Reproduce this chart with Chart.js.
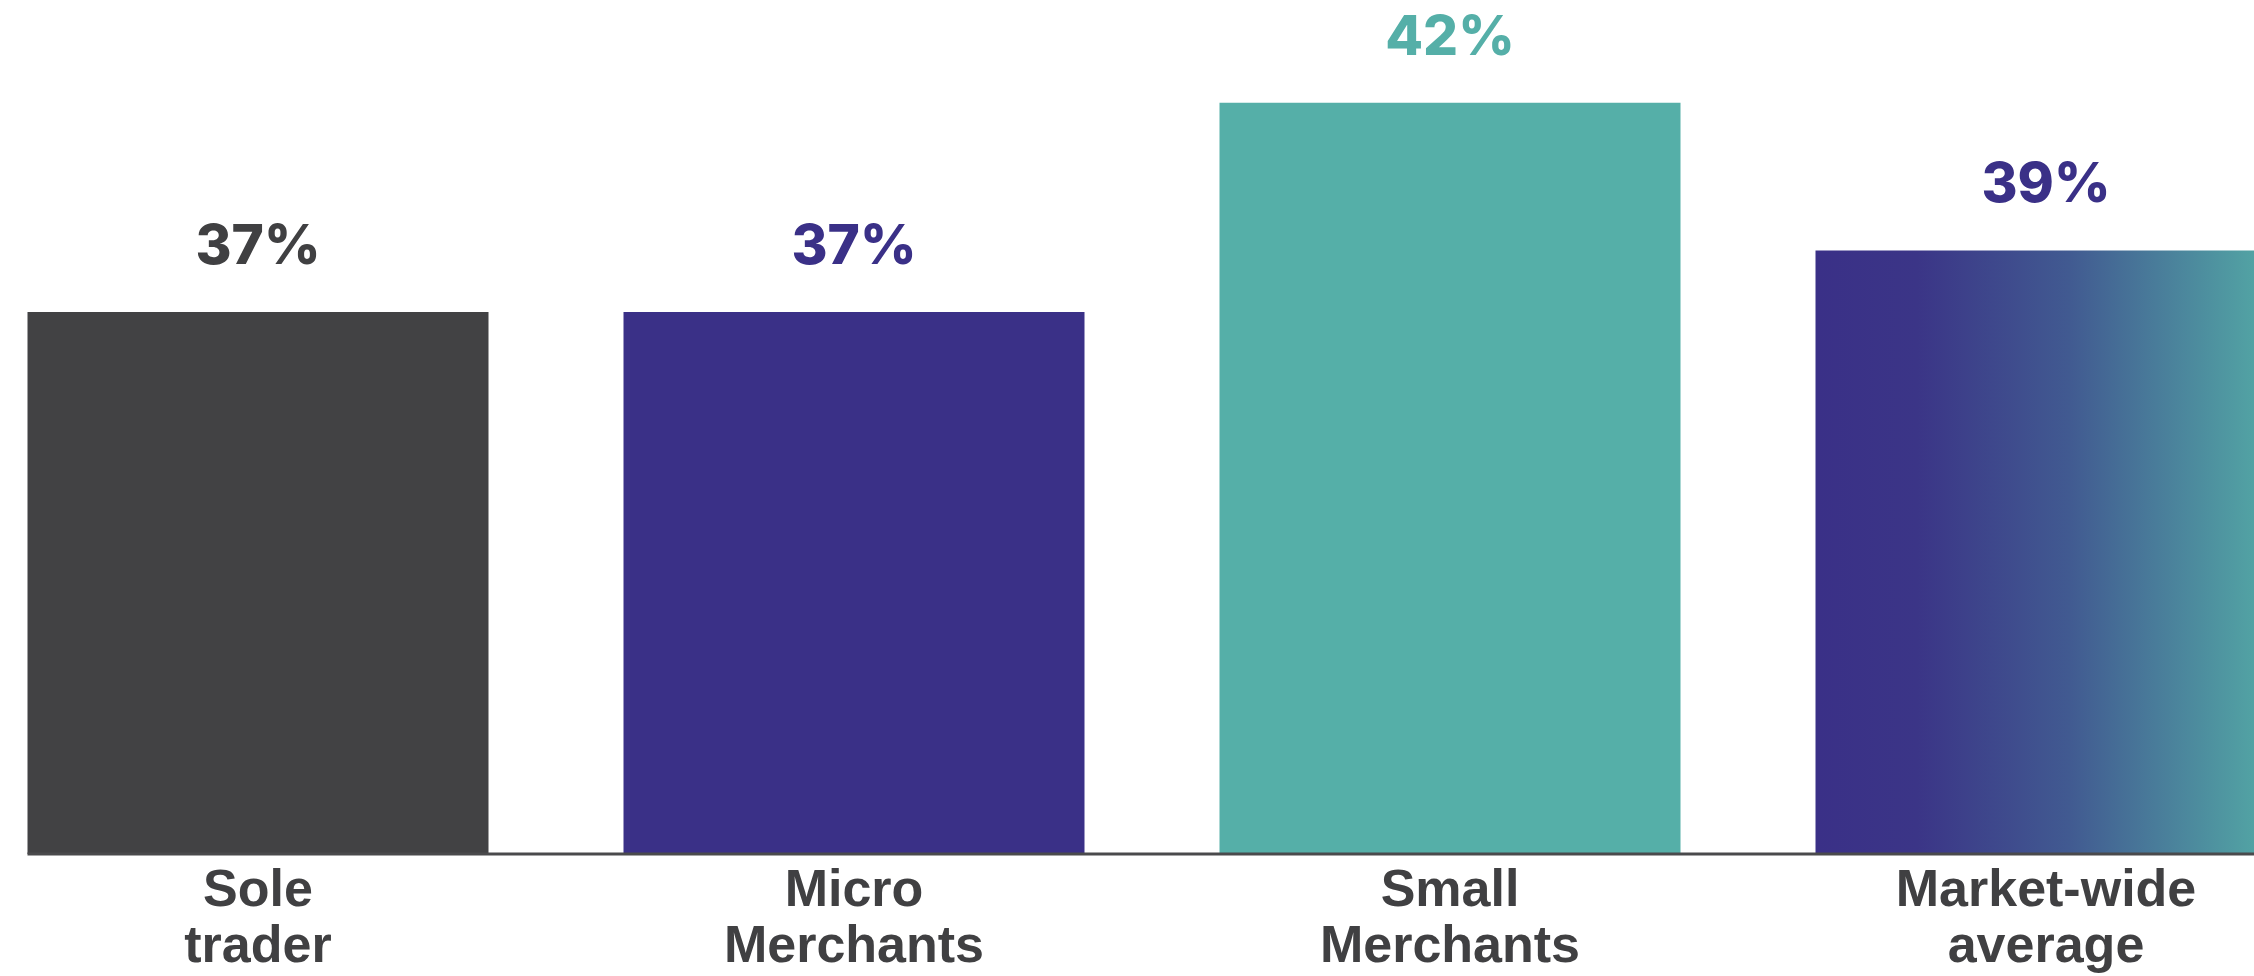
<!DOCTYPE html>
<html>
<head>
<meta charset="utf-8">
<script src="https://cdn.jsdelivr.net/npm/chart.js@4.4.0/dist/chart.umd.min.js"></script>
<style>
  html, body { margin: 0; padding: 0; background: #fff; }
  #wrap { position: relative; width: 2254px; height: 976px; overflow: hidden; }
  #shareChart { position: absolute; left: -40px; top: 0; }
</style>
</head>
<body>
<div id="wrap">
  <canvas id="shareChart" width="2384" height="986"></canvas>
</div>
<script>
// data
const categories = [
  ["Sole", "trader"],
  ["Micro", "Merchants"],
  ["Small", "Merchants"],
  ["Market-wide", "average"],
];
const shareValues = [37.2, 37.2, 42.3, 38.7]; // % (labels show rounded)
const barColors = ["#424244", "#3a3087", "#55afa8", "gradient"];
const labelColors = ["#404042", "#3a3087", "#55afa8", "#3a3087"];

const BAR_PCT = 0.7735;

// purple -> teal fill for the market-wide bar
function barFill(context) {
  const i = context.dataIndex;
  if (barColors[i] !== "gradient") return barColors[i];
  const chart = context.chart;
  if (!chart.chartArea) return "#3a3087";
  const xScale = chart.scales.x;
  const center = xScale.getPixelForValue(i);
  const half = (xScale.width / categories.length) * BAR_PCT / 2;
  const g = chart.ctx.createLinearGradient(center - half, 0, center + half, 0);
  g.addColorStop(0, "#3a3087");
  g.addColorStop(0.22, "#3b3587");
  g.addColorStop(0.55, "#415a91");
  g.addColorStop(1, "#54aba6");
  return g;
}

// value labels above bars + the baseline
const valueLabels = {
  id: "valueLabels",
  afterDatasetsDraw(chart) {
    const ctx = chart.ctx;
    const meta = chart.getDatasetMeta(0);
    const bars = meta.data;

    // baseline from first bar's left edge to the right
    const y0 = chart.scales.y.getPixelForValue(chart.scales.y.min);
    ctx.save();
    ctx.strokeStyle = "#4a4a4c";
    ctx.lineWidth = 3;
    ctx.beginPath();
    ctx.moveTo(bars[0].x - bars[0].width / 2, y0);
    ctx.lineTo(chart.chartArea.right, y0);
    ctx.stroke();

    ctx.font = "800 55px Inter, 'Liberation Sans', sans-serif";
    ctx.textAlign = "center";
    ctx.textBaseline = "alphabetic";
    bars.forEach((bar, i) => {
      ctx.fillStyle = labelColors[i];
      ctx.fillText(Math.round(shareValues[i]) + "%", bar.x, bar.y - 48);
    });
    ctx.restore();
  },
};

const shareCanvas = document.getElementById("shareChart");

new Chart(shareCanvas, {
  type: "bar",
  data: {
    labels: categories,
    datasets: [
      {
        data: shareValues,
        backgroundColor: barFill,
        borderWidth: 0,
        barPercentage: BAR_PCT,
        categoryPercentage: 1,
      },
    ],
  },
  options: {
    responsive: false,
    animation: false,
    devicePixelRatio: 1,
    layout: { padding: 0 },
    plugins: {
      legend: { display: false },
      tooltip: { enabled: false },
    },
    scales: {
      x: {
        grid: { display: false, drawTicks: false },
        border: { display: false },
        ticks: {
          color: "#404042",
          padding: 10,
          font: { family: "'Liberation Sans', Arial, sans-serif", size: 52, weight: "bold", lineHeight: 1.077 },
        },
      },
      y: {
        display: false,
        min: 24,
        max: 44.8,
      },
    },
  },
  plugins: [valueLabels],
});
</script>
</body>
</html>
